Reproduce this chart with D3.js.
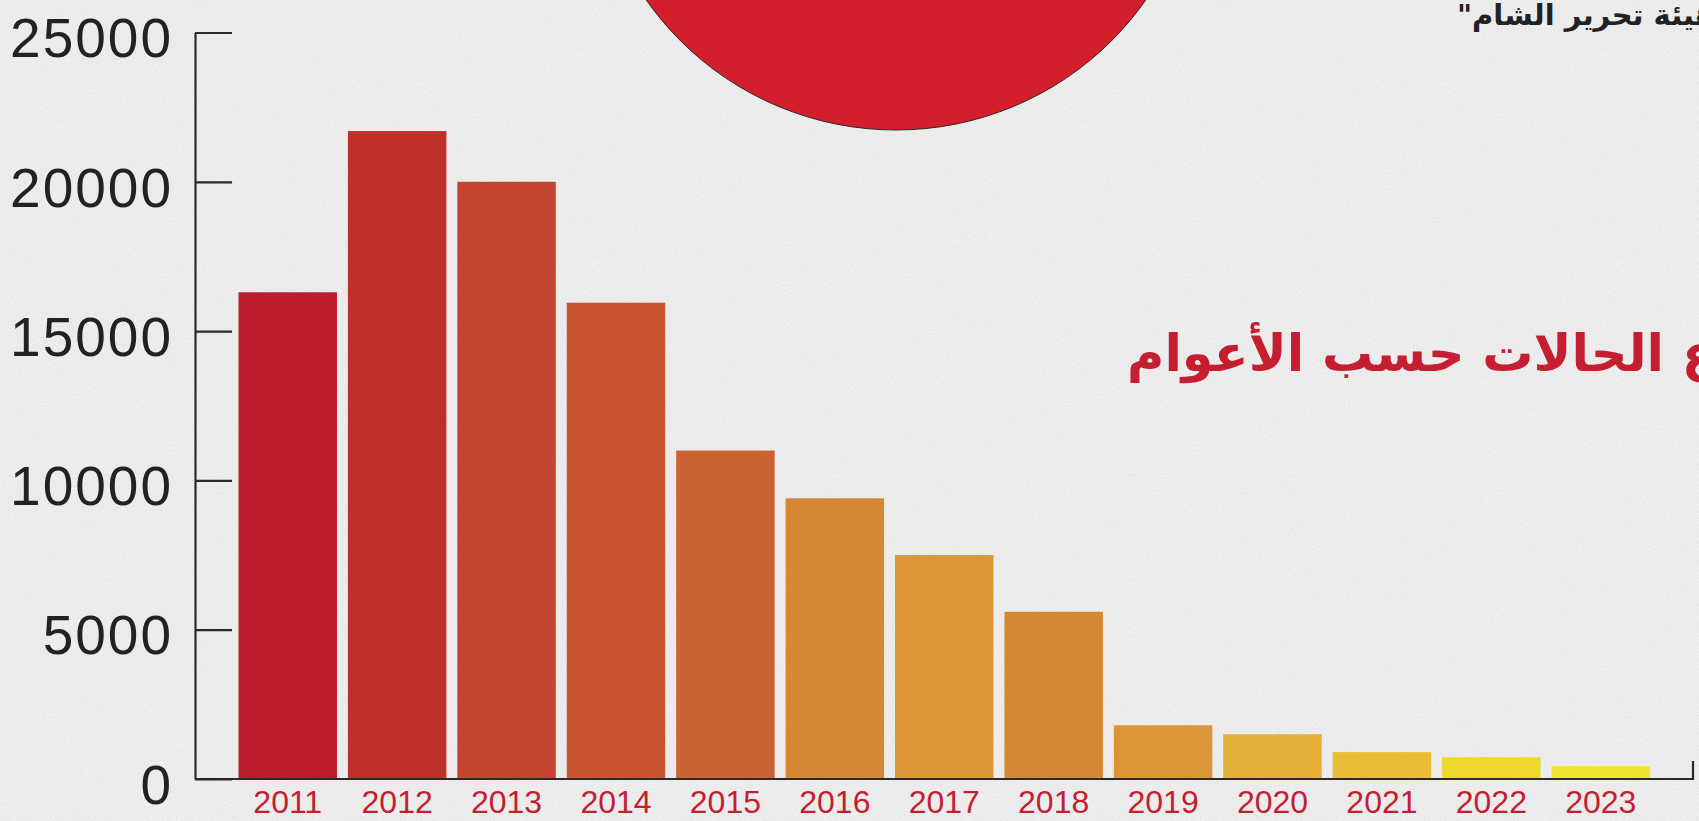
<!DOCTYPE html>
<html>
<head>
<meta charset="utf-8">
<script src="https://cdn.jsdelivr.net/npm/d3@7"></script>
<style>
  html, body { margin: 0; padding: 0; overflow: hidden; background: #ececec; }
  svg { display: block; }
</style>
</head>
<body>
<script>
const years = ["2011","2012","2013","2014","2015","2016","2017","2018","2019","2020","2021","2022","2023"];
const cases = [16300, 21700, 20000, 15950, 11000, 9400, 7500, 5600, 1800, 1500, 900, 730, 430];
const barColors = ["#bc1e2d","#c0302b","#c44431","#c85430","#cb6231","#d58934","#dc9737","#d48833","#dc9535","#e4af36","#eabd37","#f0d92f","#f2e52f"];
const yTicks = [0, 5000, 10000, 15000, 20000, 25000];
const titleText = "توزع الحالات حسب الأعوام";
const topNote = "هيئة تحرير الشام\"";

const W = 1699, H = 821;
const svg = d3.select("body").append("svg").attr("width", W).attr("height", H);

const defs = svg.append("defs");
const f = defs.append("filter").attr("id", "paper").attr("x", 0).attr("y", 0).attr("width", 1).attr("height", 1);
f.append("feTurbulence").attr("type", "fractalNoise").attr("baseFrequency", 0.75).attr("numOctaves", 3).attr("seed", 7);
f.append("feColorMatrix").attr("type", "matrix")
  .attr("values", "0 0 0 0 0.55  0 0 0 0 0.55  0 0 0 0 0.55  0.6 0 0 0 -0.22");

svg.append("rect").attr("width", W).attr("height", H).attr("fill", "#efefef");
svg.append("rect").attr("width", W).attr("height", H).attr("filter", "url(#paper)");

const x = d3.scaleBand().domain(years).range([238.5, 1650]).paddingInner(0.1).paddingOuter(0);
const y = d3.scaleLinear().domain([0, 25000]).range([779, 32.5]);

// decorative circle
svg.append("circle").attr("cx", 896).attr("cy", -175).attr("r", 305)
  .attr("fill", "#d31f2c").attr("stroke", "#2a2a2a").attr("stroke-width", 1);

// bars
svg.append("g").selectAll("rect").data(years).join("rect")
  .attr("x", d => x(d))
  .attr("width", x.bandwidth())
  .attr("y", (d, i) => y(cases[i]))
  .attr("height", (d, i) => y(0) - y(cases[i]))
  .attr("fill", (d, i) => barColors[i]);

// y axis
const yAxis = svg.append("g").attr("transform", "translate(195,0)")
  .call(d3.axisLeft(y).tickValues(yTicks).tickFormat(d3.format("d"))
    .tickSizeInner(-37).tickSizeOuter(0).tickPadding(22));
yAxis.select(".domain").attr("stroke", "#2a2a2a").attr("stroke-width", 2.2);
yAxis.selectAll(".tick line").attr("stroke", "#2a2a2a").attr("stroke-width", 2.2);
yAxis.selectAll(".tick text").attr("fill", "#222").attr("dy", "0.44em")
  .style("font-family", "'Liberation Sans', Arial, sans-serif").style("font-size", "55px")
  .style("letter-spacing", "2px");

// x axis
const xAxis = svg.append("g").attr("transform", `translate(0,${y(0)})`)
  .call(d3.axisBottom(x).tickSizeInner(0).tickSizeOuter(0).tickPadding(11));
xAxis.select(".domain").remove();
xAxis.selectAll(".tick text").attr("fill", "#c41e30")
  .style("font-family", "'Liberation Sans', Arial, sans-serif").style("font-size", "32px");

// baseline with right end tick
svg.append("path")
  .attr("d", d3.line()([[195, y(0)], [1693, y(0)], [1693, y(0) - 18]]))
  .attr("fill", "none").attr("stroke", "#2a2a2a").attr("stroke-width", 2.2);

// title (partially cut at right edge)
svg.append("text").attr("x", 1127).attr("y", 371)
  .attr("direction", "rtl").attr("text-anchor", "end")
  .attr("fill", "#c41e30")
  .style("font-family", "'DejaVu Sans', sans-serif").style("font-weight", "bold").style("font-size", "51px")
  .text(titleText);

// top note (partially cut)
svg.append("text").attr("x", 1457).attr("y", 25)
  .attr("direction", "rtl").attr("text-anchor", "end")
  .attr("fill", "#222")
  .style("font-family", "'DejaVu Sans', sans-serif").style("font-weight", "bold").style("font-size", "29px")
  .text(topNote);
</script>
</body>
</html>
